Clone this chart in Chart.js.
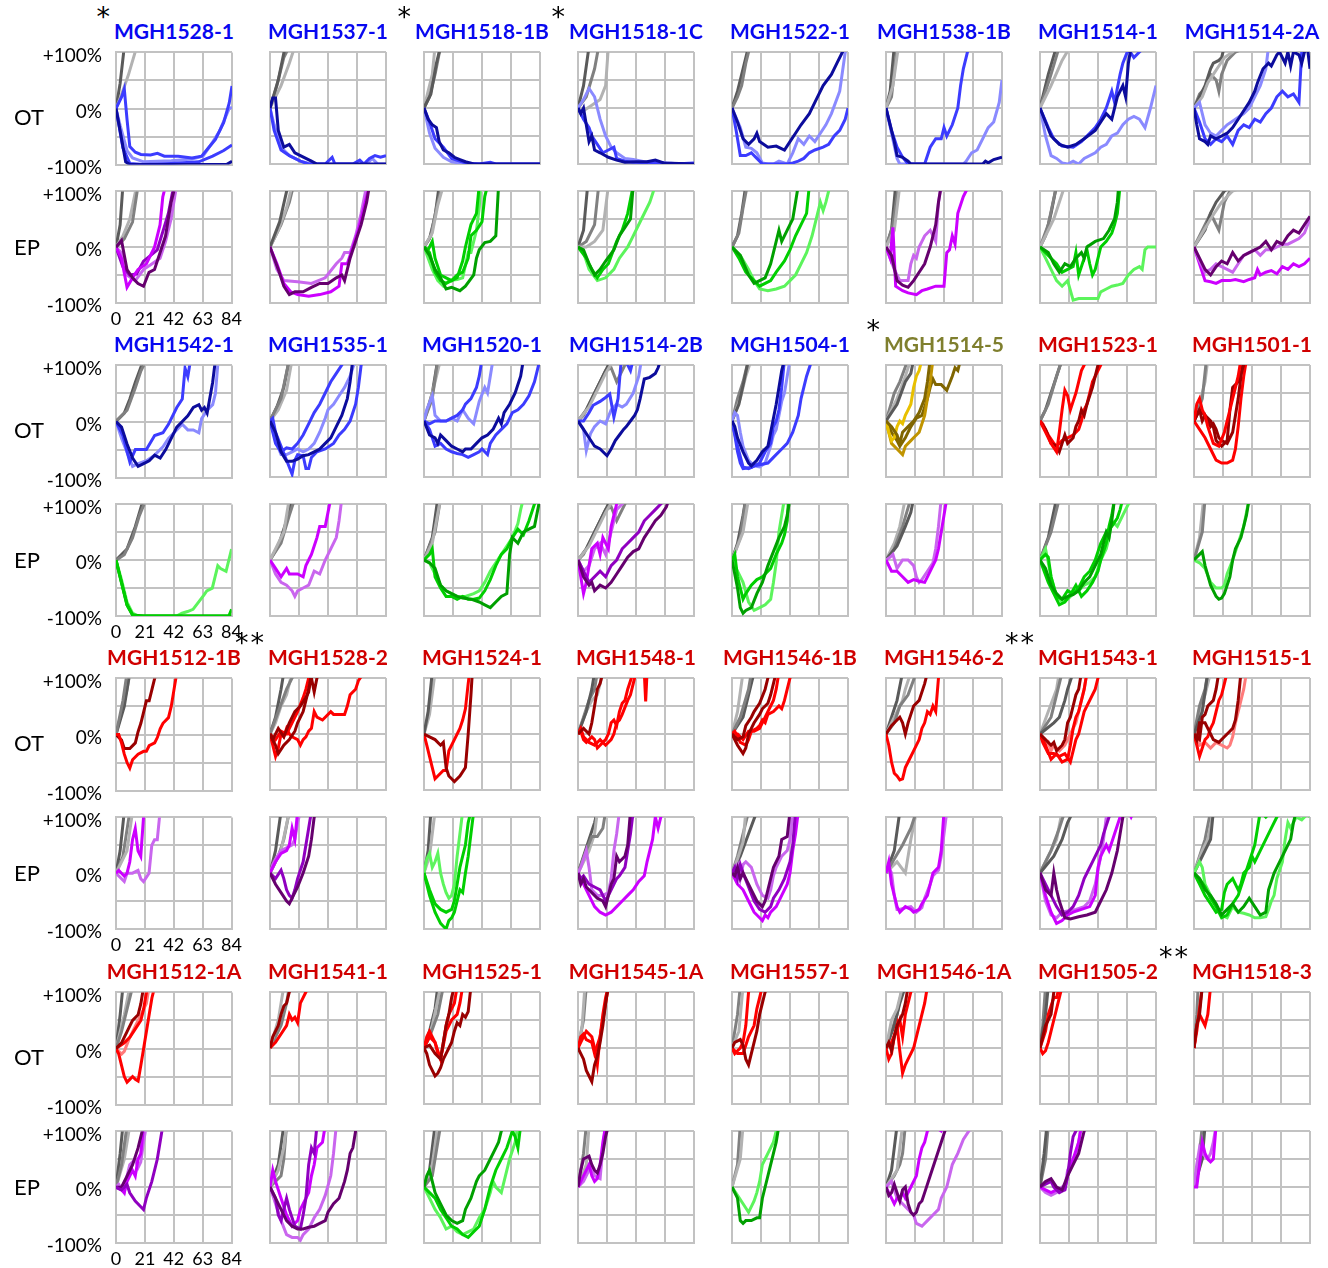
<!DOCTYPE html>
<html>
<head>
<meta charset="utf-8">
<script src="https://cdn.jsdelivr.net/npm/chart.js@4.4.1/dist/chart.umd.min.js"></script>
<style>
  body { margin: 0; background: #fff; font-family: Lato, "Open Sans", sans-serif; }
  #wrap { position: relative; width: 1328px; height: 1268px; overflow: hidden; }
  canvas { position: absolute; }
  .title { position: absolute; width: 220px; text-align: center; font-weight: bold; font-size: 21px; line-height: 24px; }
  .title .name { position: relative; }
  .title .star { position: absolute; right: 100%; top: -13px; margin-right: 2px; color: #000; font-weight: normal; font-size: 27px; letter-spacing: 2px; font-family: "DejaVu Sans", sans-serif; }
  .rowlab { position: absolute; font-size: 22px; line-height: 24px; color: #000; }
</style>
</head>
<body>
<div id="wrap"></div>
<script>
// ---- labels ----
const panelNames = [
  'MGH1528-1', 'MGH1537-1', 'MGH1518-1B', 'MGH1518-1C', 'MGH1522-1', 'MGH1538-1B', 'MGH1514-1', 'MGH1514-2A',
  'MGH1542-1', 'MGH1535-1', 'MGH1520-1', 'MGH1514-2B', 'MGH1504-1', 'MGH1514-5', 'MGH1523-1', 'MGH1501-1',
  'MGH1512-1B', 'MGH1528-2', 'MGH1524-1', 'MGH1548-1', 'MGH1546-1B', 'MGH1546-2', 'MGH1543-1', 'MGH1515-1',
  'MGH1512-1A', 'MGH1541-1', 'MGH1525-1', 'MGH1545-1A', 'MGH1557-1', 'MGH1546-1A', 'MGH1505-2', 'MGH1518-3'
];
const nameColors = [
  'b', 'b', 'b', 'b', 'b', 'b', 'b', 'b',
  'b', 'b', 'b', 'b', 'b', 'o', 'r', 'r',
  'r', 'r', 'r', 'r', 'r', 'r', 'r', 'r',
  'r', 'r', 'r', 'r', 'r', 'r', 'r', 'r'
];
const starMarks = [
  '*', '', '*', '*', '', '', '', '',
  '', '', '', '', '', '*', '', '',
  '', '**', '', '', '', '', '**', '',
  '', '', '', '', '', '', '', '**'
];
const rowLabels = ['OT', 'EP'];
const yTickLabels = { '100': '+100%', '0': '0%', '-100': '-100%' };
const xTicks = [0, 21, 42, 63, 84];

const palette = {
  g1: '#5a5a5a', g2: '#808080', g3: '#b2b2b2',
  b1: '#0c0c9c', b2: '#3c3cff', b3: '#8a8aff',
  p1: '#66006e', p4: '#9000c0', p2: '#cc00ff', p3: '#c966ee',
  n1: '#00a000', n2: '#00cf00', n3: '#5cf45c',
  r1: '#990000', r2: '#ff0000', r3: '#ff7b7b',
  y1: '#e8c000', y3: '#c09400', y2: '#806600'
};
const titleColors = { b: '#0808f0', r: '#d00000', o: '#7f7f2e' };

// ---- series: [colour, day, %change, day, %change, ...] ----
const ot_1528_1 = [
  ['g1', 0,0, 3,45, 6,110],
  ['g3', 0,0, 4,25, 9,60, 15,110],
  ['b3', 0,0, 3,-30, 8,-75, 12,-88, 20,-95, 40,-93, 55,-90, 63,-85, 70,-60, 75,-40, 82,0, 84,2],
  ['b2', 0,0, 4,20, 6,35, 8,-20, 10,-68, 14,-78, 18,-82, 25,-83, 30,-80, 35,-85, 45,-85, 55,-88, 62,-85, 67,-70, 72,-55, 78,-25, 82,10, 84,40],
  ['b2', 0,0, 5,-70, 10,-98, 20,-100, 40,-98, 60,-95, 70,-85, 78,-75, 84,-65],
  ['b1', 0,0, 3,-40, 7,-95, 10,-100, 70,-100, 80,-100, 84,-94]
];
const ep_1528_1 = [
  ['g1', 0,0, 3,40, 5,110],
  ['g3', 0,0, 5,20, 10,50, 15,110],
  ['g2', 0,0, 6,15, 12,45, 16,110],
  ['p3', 0,0, 4,-10, 8,-50, 14,-60, 20,-40, 26,-30, 32,-20, 36,10, 40,50, 44,110],
  ['p4', 0,0, 5,-35, 10,-50, 15,-48, 20,-25, 25,-15, 30,-5, 38,60, 42,110],
  ['p2', 0,0, 4,-20, 8,-72, 12,-55, 16,-40, 22,-30, 28,0, 32,40, 34,90, 36,110],
  ['p1', 0,0, 4,12, 8,-40, 12,-55, 16,-65, 20,-70, 24,-45, 28,-40, 32,-10, 36,20, 40,80, 43,110]
];
const ot_1537_1 = [
  ['g2', 0,0, 5,40, 10,90, 14,110],
  ['g3', 0,0, 8,40, 14,80, 18,110],
  ['g1', 0,0, 6,50, 11,110],
  ['b3', 0,0, 3,-30, 8,-70, 14,-85, 22,-95, 30,-100, 70,-100, 74,-90, 78,-100, 84,-100],
  ['b2', 0,0, 3,-40, 8,-75, 14,-85, 22,-95, 28,-100, 40,-100, 45,-88, 47,-100, 60,-100, 65,-93, 68,-100, 72,-90, 76,-85, 80,-88, 84,-85],
  ['b1', 0,0, 2,18, 4,18, 6,-40, 10,-70, 14,-65, 18,-80, 22,-85, 26,-90, 30,-95, 34,-100, 84,-100]
];
const ep_1537_1 = [
  ['g2', 0,0, 8,40, 14,80, 17,110],
  ['g3', 0,0, 6,30, 12,70, 16,110],
  ['g1', 0,0, 7,45, 13,110],
  ['p3', 0,0, 5,-40, 10,-60, 20,-62, 30,-65, 40,-55, 48,-30, 52,-20, 54,-10, 58,-10, 62,20, 66,60, 70,110],
  ['p2', 0,0, 5,-30, 10,-65, 15,-80, 20,-85, 28,-88, 36,-85, 44,-80, 50,-70, 52,-30, 56,-30, 60,0, 64,30, 68,70, 72,110],
  ['p1', 0,0, 6,-40, 10,-70, 14,-85, 18,-80, 24,-80, 30,-72, 36,-65, 42,-65, 48,-55, 52,-50, 54,-60, 58,-20, 62,10, 66,40, 70,80, 72,110]
];
const ot_1518_1b = [
  ['g3', 0,0, 3,30, 6,60, 8,110],
  ['g2', 0,0, 4,20, 8,60, 12,110],
  ['g1', 0,0, 5,25, 9,80, 12,110],
  ['b3', 0,0, 4,-45, 8,-72, 14,-88, 20,-96, 30,-100, 84,-100],
  ['b2', 0,0, 4,-25, 8,-55, 14,-70, 20,-90, 30,-98, 40,-100, 48,-97, 52,-100, 84,-100],
  ['b1', 0,0, 3,-20, 6,-30, 9,-35, 11,-60, 14,-75, 18,-80, 22,-88, 26,-92, 30,-96, 36,-100, 84,-100]
];
const ep_1518_1b = [
  ['g1', 0,0, 4,15, 8,55, 11,110],
  ['g2', 0,0, 5,20, 9,70, 13,110],
  ['g3', 0,0, 6,25, 10,75, 14,110],
  ['n3', 0,0, 6,-40, 10,-60, 14,-70, 18,-60, 24,-58, 28,-55, 32,-10, 34,-10, 38,30, 40,70, 41,110],
  ['n2', 0,0, 4,-10, 8,-45, 12,-60, 16,-65, 20,-60, 24,-55, 28,-25, 30,0, 34,40, 38,60, 40,110],
  ['n2', 0,0, 3,-5, 6,10, 8,-20, 12,-50, 16,-55, 20,-60, 24,-50, 28,-45, 32,-20, 34,20, 38,30, 42,45, 44,90, 46,110],
  ['n1', 0,0, 4,-15, 8,-40, 12,-55, 16,-75, 20,-72, 26,-78, 30,-70, 36,-50, 38,-20, 40,-5, 44,8, 48,10, 52,20, 54,110]
];
const ot_1518_1c = [
  ['g1', 0,0, 4,40, 8,110],
  ['g2', 0,0, 6,20, 12,70, 15,110],
  ['g3', 0,0, 4,-5, 10,5, 16,15, 20,40, 22,110],
  ['b3', 0,0, 4,15, 8,35, 12,20, 16,-20, 20,-50, 24,-70, 28,-80, 34,-90, 40,-92, 48,-96, 56,-97, 70,-99, 84,-100],
  ['b2', 0,0, 4,-20, 8,-35, 10,-50, 14,-65, 18,-80, 22,-75, 26,-70, 28,-90, 34,-95, 40,-97, 60,-98, 70,-100, 84,-98],
  ['b1', 0,0, 2,-10, 4,0, 6,-30, 8,-60, 10,-50, 12,-75, 16,-80, 22,-88, 28,-93, 34,-97, 42,-96, 50,-96, 56,-93, 62,-98, 84,-100]
];
const ep_1518_1c = [
  ['g1', 0,0, 4,30, 7,110],
  ['g2', 0,0, 6,10, 12,40, 15,110],
  ['g3', 0,0, 6,0, 12,10, 18,30, 22,110],
  ['n3', 0,0, 4,-10, 8,-40, 14,-60, 20,-55, 26,-40, 30,-20, 36,0, 40,20, 46,50, 52,80, 56,110],
  ['n2', 0,0, 6,-20, 10,-40, 14,-55, 18,-40, 22,-30, 28,10, 32,30, 36,60, 40,110],
  ['n1', 0,0, 4,-5, 8,-30, 12,-50, 16,-40, 20,-25, 26,-5, 30,20, 34,35, 38,50, 40,110]
];
const ot_1522_1 = [
  ['g1', 0,0, 4,30, 8,70, 12,110],
  ['g2', 0,0, 4,20, 7,40, 10,80, 13,110],
  ['b3', 0,0, 6,-35, 10,-70, 14,-72, 18,-80, 22,-98, 26,-100, 30,-100, 34,-95, 40,-100, 44,-80, 48,-55, 52,-65, 56,-50, 60,-60, 64,-45, 68,-30, 72,-10, 78,30, 82,100, 84,110],
  ['b2', 0,0, 3,-40, 6,-85, 10,-85, 14,-80, 18,-90, 22,-100, 40,-100, 44,-98, 48,-95, 52,-90, 56,-80, 60,-75, 66,-70, 70,-65, 74,-50, 78,-40, 82,-20, 84,0],
  ['b1', 0,0, 4,-25, 8,-55, 12,-65, 16,-55, 18,-45, 20,-60, 26,-70, 32,-68, 38,-75, 42,-60, 46,-45, 50,-30, 56,-10, 60,10, 66,40, 72,60, 76,80, 80,100, 82,110]
];
const ep_1522_1 = [
  ['g1', 0,0, 4,20, 7,60, 10,110],
  ['g2', 0,0, 5,25, 8,70, 11,110],
  ['n3', 0,0, 6,-15, 12,-40, 16,-60, 20,-75, 26,-78, 32,-75, 38,-70, 42,-60, 46,-50, 50,-30, 54,-10, 58,20, 62,60, 64,80, 66,65, 68,80, 71,110],
  ['n2', 0,0, 5,-20, 10,-45, 16,-60, 20,-70, 24,-65, 28,-60, 32,-45, 38,-25, 42,-5, 46,20, 50,40, 54,60, 56,110],
  ['n1', 0,0, 6,-15, 12,-50, 16,-65, 20,-60, 24,-55, 28,-30, 30,-10, 34,30, 36,10, 40,30, 44,50, 48,110]
];
const ot_1538_1b = [
  ['g1', 0,0, 3,30, 6,110],
  ['g2', 0,0, 4,20, 8,110],
  ['g3', 0,0, 5,40, 9,110],
  ['b3', 0,0, 4,-45, 8,-90, 10,-100, 56,-100, 58,-95, 62,-80, 66,-75, 70,-55, 74,-35, 78,-25, 82,10, 84,50],
  ['b2', 0,0, 4,-40, 8,-70, 12,-88, 16,-100, 28,-100, 32,-70, 36,-55, 40,-55, 42,-35, 44,-50, 48,-30, 52,0, 54,40, 56,70, 58,90, 60,110],
  ['b1', 0,0, 3,-30, 6,-60, 8,-85, 12,-88, 16,-95, 18,-100, 70,-100, 72,-95, 74,-98, 78,-92, 84,-88]
];
const ep_1538_1b = [
  ['g1', 0,0, 4,30, 7,110],
  ['g2', 0,0, 5,40, 9,110],
  ['g3', 0,0, 6,30, 10,110],
  ['p3', 0,0, 6,-40, 10,-60, 16,-60, 18,-30, 20,-15, 22,-20, 24,0, 28,20, 32,30, 36,10, 38,80, 40,110],
  ['p2', 0,0, 3,-20, 5,35, 7,-70, 12,-78, 16,-82, 22,-85, 26,-78, 30,-75, 36,-70, 42,-70, 44,-10, 46,-5, 48,20, 50,5, 52,60, 56,90, 58,100, 60,110],
  ['p1', 0,0, 4,-15, 8,-60, 12,-68, 16,-72, 20,-60, 24,-45, 28,-30, 32,0, 36,40, 38,80, 40,110]
];
const ot_1514_1 = [
  ['g1', 0,0, 6,60, 12,110],
  ['g2', 0,0, 4,30, 8,60, 14,110],
  ['g3', 0,0, 8,40, 16,85, 22,110],
  ['b3', 0,0, 4,-50, 8,-85, 12,-90, 16,-98, 20,-100, 24,-95, 28,-100, 32,-90, 40,-80, 44,-70, 48,-65, 52,-50, 56,-45, 60,-30, 64,-20, 68,-15, 72,-20, 76,-35, 80,0, 84,40],
  ['b2', 0,0, 6,-35, 10,-55, 16,-68, 24,-70, 30,-60, 36,-45, 40,-35, 44,-20, 48,0, 52,30, 54,10, 58,60, 60,80, 64,105, 68,90, 72,100, 76,110],
  ['b1', 0,0, 4,-25, 8,-50, 14,-65, 20,-70, 26,-65, 32,-55, 40,-40, 44,-25, 48,-10, 52,-20, 56,20, 60,40, 62,20, 64,80, 66,110]
];
const ep_1514_1 = [
  ['g1', 0,0, 4,20, 8,60, 12,110],
  ['g2', 0,0, 6,40, 12,110],
  ['g3', 0,0, 10,50, 18,110],
  ['n3', 0,0, 4,-20, 8,-40, 12,-60, 16,-70, 20,-60, 24,-95, 28,-92, 36,-92, 42,-92, 44,-80, 48,-75, 52,-70, 56,-68, 60,-65, 64,-50, 68,-40, 72,-35, 74,-40, 76,-5, 78,0, 84,0],
  ['n2', 0,0, 4,-10, 8,-20, 12,-30, 16,-45, 20,-40, 24,-35, 26,-10, 28,-50, 32,-20, 34,-5, 36,-30, 38,-50, 40,-40, 42,-20, 44,0, 48,10, 52,25, 54,40, 56,60, 58,110],
  ['n1', 0,0, 6,-10, 10,-30, 14,-45, 18,-30, 22,-35, 26,-20, 30,-10, 32,-20, 34,0, 40,10, 46,15, 50,30, 54,50, 56,80, 57,110]
];
const ot_1514_2a = [
  ['g2', 0,0, 4,25, 8,35, 10,50, 12,60, 16,50, 18,30, 20,60, 24,85, 30,100, 40,110],
  ['g1', 0,0, 4,20, 8,40, 12,70, 14,80, 18,85, 20,90, 22,110],
  ['g3', 0,0, 6,20, 10,45, 14,60, 18,75, 22,90, 28,100, 32,110],
  ['b3', 0,0, 4,10, 8,-30, 12,-45, 16,-50, 20,-40, 24,-30, 30,-20, 36,-10, 40,0, 44,20, 48,40, 52,70, 54,110],
  ['b2', 0,0, 4,-25, 8,-55, 12,-65, 16,-55, 20,-60, 24,-50, 28,-65, 32,-40, 36,-30, 40,-35, 44,-20, 48,-25, 52,-10, 56,0, 60,20, 64,30, 68,20, 72,25, 76,10, 78,100, 80,110, 84,110],
  ['b1', 0,0, 2,-30, 4,-55, 8,-60, 10,-65, 12,-50, 16,-55, 20,-50, 24,-45, 28,-35, 32,-20, 36,-5, 40,10, 44,30, 46,45, 50,70, 54,80, 56,75, 60,95, 62,100, 66,80, 68,100, 70,75, 72,100, 76,95, 78,80, 80,100, 82,110, 84,70]
];
const ep_1514_2a = [
  ['g2', 0,0, 4,20, 8,40, 12,60, 14,50, 18,30, 22,80, 26,100, 36,110],
  ['g1', 0,0, 8,30, 12,60, 16,80, 22,100, 28,110],
  ['g3', 0,0, 6,25, 12,50, 20,80, 28,100, 40,110],
  ['p2', 0,0, 4,-30, 8,-60, 12,-62, 16,-65, 20,-60, 26,-60, 30,-58, 36,-62, 40,-58, 44,-55, 46,-40, 48,-50, 52,-45, 56,-42, 60,-48, 64,-35, 68,-40, 72,-30, 76,-35, 80,-30, 84,-20],
  ['p3', 0,0, 4,-25, 8,-45, 12,-40, 16,-30, 20,-35, 24,-40, 28,-45, 32,-30, 36,-15, 40,-10, 44,-5, 48,-15, 52,-5, 56,-5, 60,0, 64,5, 68,5, 72,10, 76,15, 80,25, 84,50],
  ['p1', 0,0, 4,-20, 8,-40, 12,-50, 16,-35, 20,-25, 24,-30, 28,-10, 32,-25, 36,-15, 40,-10, 44,-5, 48,0, 52,10, 56,-5, 60,10, 64,5, 68,20, 72,30, 76,25, 80,40, 84,55]
];
const ot_1542_1 = [
  ['g1', 0,0, 6,15, 10,40, 14,70, 20,110],
  ['g2', 0,0, 8,20, 14,60, 18,90, 22,110],
  ['b3', 0,0, 4,-30, 8,-55, 12,-80, 16,-75, 22,-70, 28,-60, 34,-45, 38,-30, 42,-20, 48,-5, 52,-15, 56,-15, 60,-20, 62,5, 66,20, 70,30, 72,50, 74,110],
  ['b2', 0,0, 5,-25, 10,-72, 14,-50, 18,-50, 22,-50, 28,-25, 34,-20, 38,-5, 44,25, 48,40, 50,95, 52,80, 54,110],
  ['b1', 0,0, 4,-10, 8,-40, 12,-65, 16,-80, 20,-75, 24,-70, 28,-60, 32,-65, 36,-50, 40,-30, 44,-10, 48,0, 52,10, 56,25, 60,30, 62,20, 64,25, 66,15, 70,70, 72,110]
];
const ep_1542_1 = [
  ['g1', 0,0, 8,20, 14,60, 20,110],
  ['g2', 0,0, 6,10, 12,40, 17,80, 22,110],
  ['n3', 0,0, 4,-35, 8,-75, 12,-95, 16,-100, 44,-100, 48,-95, 52,-92, 56,-88, 60,-75, 64,-62, 66,-55, 70,-50, 72,-30, 74,-10, 76,-15, 80,-20, 84,20],
  ['n1', 0,0, 4,-40, 8,-80, 12,-98, 20,-100, 84,-100],
  ['n2', 0,0, 4,-40, 8,-80, 12,-98, 16,-100, 82,-100, 84,-88]
];
const ot_1535_1 = [
  ['g1', 0,0, 5,25, 10,60, 14,110],
  ['g3', 0,0, 6,20, 12,55, 16,110],
  ['g2', 0,0, 8,40, 14,110],
  ['b3', 0,0, 4,-35, 8,-60, 12,-60, 16,-55, 20,-50, 24,-55, 28,-50, 32,-40, 36,-20, 40,5, 42,20, 46,30, 50,45, 54,60, 58,80, 62,110],
  ['b2', 0,0, 4,-40, 8,-55, 12,-48, 16,-50, 20,-40, 24,-25, 28,-5, 32,15, 36,30, 40,50, 44,70, 48,85, 52,100, 54,110],
  ['b2', 0,0, 2,5, 4,-20, 8,-45, 12,-70, 16,-95, 18,-70, 20,-60, 24,-62, 26,-85, 28,-85, 30,-65, 34,-55, 40,-50, 46,-40, 50,-25, 54,-15, 58,0, 62,30, 64,60, 66,100, 68,110],
  ['b1', 0,0, 4,-20, 8,-55, 12,-72, 16,-72, 20,-68, 24,-62, 28,-60, 32,-55, 36,-50, 40,-40, 44,-30, 48,-10, 52,10, 56,40, 58,70, 60,110]
];
const ep_1535_1 = [
  ['g1', 0,0, 6,25, 12,70, 16,110],
  ['g2', 0,0, 8,30, 14,80, 18,110],
  ['g3', 0,0, 4,20, 10,50, 14,110],
  ['p3', 0,0, 4,-25, 8,-40, 12,-45, 16,-55, 18,-65, 20,-55, 24,-50, 28,-45, 32,-20, 36,-25, 40,0, 44,20, 48,40, 50,70, 52,110],
  ['p2', 0,0, 4,-15, 8,-30, 12,-15, 14,-25, 20,-25, 24,-30, 26,-10, 30,10, 34,40, 36,60, 40,60, 42,85, 44,110]
];
const ot_1520_1 = [
  ['g1', 0,0, 6,50, 10,110],
  ['g3', 0,0, 4,30, 8,70, 12,110],
  ['g2', 0,0, 6,40, 10,110],
  ['b3', 0,0, 2,20, 6,45, 8,10, 12,0, 16,0, 20,5, 24,0, 28,20, 32,5, 36,-5, 40,35, 44,60, 46,50, 48,80, 50,110],
  ['b2', 0,0, 4,-15, 8,-45, 12,-40, 16,-50, 20,-55, 24,-58, 28,-60, 32,-65, 36,-60, 40,-55, 42,-50, 44,-55, 46,-60, 48,-40, 52,-25, 56,-15, 60,-5, 64,15, 68,20, 72,30, 76,45, 80,70, 84,110],
  ['b2', 0,0, 4,-5, 8,0, 12,0, 16,0, 20,5, 24,10, 28,20, 30,30, 34,40, 36,50, 38,60, 40,80, 42,110],
  ['b1', 0,0, 4,-25, 8,-30, 10,-40, 12,-25, 16,-35, 20,-45, 24,-50, 28,-55, 30,-50, 34,-50, 38,-40, 42,-30, 46,-25, 50,-15, 52,-5, 54,5, 56,-5, 58,15, 62,30, 66,50, 70,80, 72,110]
];
const ep_1520_1 = [
  ['g1', 0,0, 6,40, 10,110],
  ['g2', 0,0, 8,50, 12,110],
  ['g3', 0,0, 6,30, 12,110],
  ['n3', 0,0, 4,-5, 8,-25, 12,-45, 16,-55, 20,-60, 24,-65, 30,-65, 36,-60, 40,-55, 44,-40, 48,-20, 52,-5, 56,10, 60,25, 64,40, 68,65, 70,90, 72,110],
  ['n2', 0,0, 4,10, 6,20, 8,-30, 12,-50, 16,-65, 20,-65, 24,-70, 28,-65, 32,-70, 36,-70, 40,-68, 44,-55, 48,-35, 52,-10, 56,10, 60,20, 64,40, 68,55, 72,45, 76,70, 80,100, 82,110],
  ['n1', 0,0, 4,-5, 8,-15, 12,-45, 16,-55, 20,-60, 24,-65, 28,-68, 34,-70, 40,-75, 44,-80, 48,-85, 52,-75, 56,-65, 60,-60, 62,10, 64,40, 68,30, 72,50, 76,55, 80,60, 84,110]
];
const ot_1514_2b = [
  ['g2', 0,0, 4,10, 8,30, 12,50, 16,70, 20,90, 24,95, 28,70, 30,80, 36,110],
  ['g1', 0,0, 6,20, 10,40, 14,60, 18,80, 22,100, 26,110],
  ['g3', 0,0, 8,25, 14,55, 20,85, 26,110],
  ['b3', 0,0, 4,-15, 6,-53, 9,-23, 12,-10, 16,0, 20,-5, 24,20, 28,30, 32,25, 35,30, 40,50, 44,80, 46,110],
  ['b2', 0,0, 4,0, 8,15, 11,28, 16,35, 20,42, 23,48, 26,7, 29,40, 31,100, 34,110, 38,90, 40,110],
  ['b1', 0,0, 4,-15, 8,-30, 12,-45, 16,-50, 21,-62, 24,-50, 27,-35, 30,-25, 33,-15, 35,-10, 38,0, 41,10, 43,20, 45,40, 48,75, 52,78, 56,85, 58,95, 60,110]
];
const ep_1514_2b = [
  ['g2', 0,0, 4,10, 8,30, 12,50, 16,70, 20,90, 24,95, 28,70, 30,80, 36,110],
  ['g1', 0,0, 6,20, 10,40, 14,60, 18,80, 22,100, 26,110],
  ['g3', 0,0, 8,25, 14,55, 20,85, 26,110],
  ['p3', 0,0, 4,-20, 8,-10, 12,20, 16,30, 20,10, 24,50, 26,70, 28,90, 32,100, 36,110],
  ['p2', 0,0, 2,-30, 4,-60, 6,-40, 8,-10, 10,20, 14,30, 16,10, 18,40, 22,20, 24,60, 26,80, 28,100, 30,110],
  ['p4', 0,0, 4,-20, 8,-40, 12,-30, 16,-20, 20,-30, 24,-10, 28,0, 32,20, 36,30, 40,40, 44,50, 48,70, 52,80, 56,90, 60,100, 64,110],
  ['p1', 0,0, 4,-30, 8,-45, 10,-40, 12,-55, 16,-45, 20,-50, 24,-40, 28,-25, 32,-10, 36,5, 40,15, 44,20, 48,40, 52,55, 56,70, 60,80, 64,95, 66,110]
];
const ot_1504_1 = [
  ['g2', 0,0, 4,40, 8,70, 12,110],
  ['g3', 0,0, 6,40, 10,80, 14,110],
  ['g1', 0,0, 5,30, 9,75, 12,110],
  ['b3', 0,0, 2,15, 4,10, 6,-20, 8,-45, 12,-70, 16,-80, 20,-82, 24,-75, 26,-60, 28,-45, 30,-25, 32,-15, 34,10, 36,35, 38,50, 40,80, 42,110],
  ['b2', 0,0, 2,-25, 4,-55, 6,-75, 8,-85, 14,-83, 20,-75, 24,-55, 28,-40, 30,-10, 32,0, 34,20, 36,60, 38,110],
  ['b2', 0,0, 4,-45, 8,-82, 12,-85, 16,-80, 20,-78, 26,-75, 30,-65, 36,-50, 40,-40, 44,-20, 48,10, 50,40, 52,60, 54,80, 56,95, 58,110],
  ['b1', 0,0, 2,-10, 4,-30, 8,-55, 12,-75, 14,-80, 18,-70, 22,-55, 26,-45, 28,-20, 32,30, 34,60, 36,90, 38,110]
];
const ep_1504_1 = [
  ['g1', 0,0, 4,30, 8,80, 10,110],
  ['g2', 0,0, 6,40, 10,110],
  ['g3', 0,0, 8,50, 12,110],
  ['n3', 0,0, 4,-20, 8,-40, 12,-75, 16,-90, 20,-85, 24,-80, 28,-70, 30,-40, 32,-5, 34,50, 36,80, 38,110],
  ['n2', 0,0, 2,10, 4,-30, 6,-50, 8,-70, 10,-60, 14,-45, 18,-35, 22,-30, 24,-25, 28,-15, 32,10, 36,30, 38,45, 40,70, 41,110],
  ['n1', 0,0, 4,-50, 6,-85, 8,-95, 10,-90, 14,-85, 18,-60, 22,-40, 26,-10, 30,15, 34,40, 38,60, 40,80, 42,110]
];
const ot_1514_5 = [
  ['g2', 0,0, 6,50, 10,70, 16,110],
  ['g3', 0,0, 4,20, 8,40, 14,80, 18,110],
  ['g1', 0,0, 8,30, 14,70, 18,85, 20,110],
  ['y2', 0,0, 4,-20, 8,-35, 10,-45, 14,-30, 18,-10, 22,5, 26,10, 28,25, 30,40, 32,60, 34,75, 36,65, 40,65, 44,55, 48,80, 50,95, 52,90, 54,110],
  ['y3', 0,0, 4,-40, 8,-50, 12,-60, 14,-45, 18,-35, 20,-30, 24,-20, 28,10, 30,40, 32,70, 34,110],
  ['y1', 0,0, 2,-20, 4,-35, 6,-30, 8,-10, 10,0, 12,-5, 14,10, 16,20, 18,30, 20,60, 22,80, 24,90, 26,110],
  ['y2', 0,0, 4,-10, 8,-25, 10,-40, 12,-20, 16,-10, 20,0, 24,15, 28,40, 30,70, 32,110]
];
const ep_1514_5 = [
  ['g3', 0,0, 6,30, 10,60, 14,110],
  ['g2', 0,0, 6,20, 12,60, 18,110],
  ['g1', 0,0, 8,25, 14,60, 18,85, 20,110],
  ['p3', 0,0, 3,5, 5,10, 8,-15, 12,0, 16,0, 20,-10, 22,-30, 24,-40, 26,-35, 30,-20, 34,-5, 36,20, 38,60, 40,110],
  ['p2', 0,0, 4,-20, 8,-20, 12,-30, 16,-40, 20,-35, 24,-38, 28,-40, 30,-30, 34,-10, 36,0, 38,20, 40,50, 42,80, 44,110]
];
const ot_1523_1 = [
  ['g1', 0,0, 4,20, 8,50, 12,80, 16,110],
  ['g2', 0,0, 6,30, 12,80, 16,110],
  ['r2', 0,0, 2,-5, 6,-25, 10,-40, 12,-45, 16,-35, 20,-30, 24,-25, 28,-15, 30,0, 32,20, 34,30, 36,50, 38,70, 42,90, 46,110],
  ['r1', 0,0, 4,-15, 8,-40, 12,-45, 14,-55, 16,-40, 18,-25, 20,-40, 22,-35, 24,-30, 26,-10, 28,0, 30,20, 32,10, 34,30, 36,45, 38,60, 40,80, 42,100, 44,110],
  ['r2', 0,0, 4,-20, 8,-40, 12,-55, 14,-20, 16,20, 18,55, 20,45, 22,20, 24,35, 26,50, 28,70, 30,90, 32,100, 34,110]
];
const ep_1523_1 = [
  ['g1', 0,0, 6,40, 12,110],
  ['g2', 0,0, 8,50, 14,110],
  ['n3', 0,0, 4,20, 8,-30, 12,-65, 16,-75, 20,-70, 24,-60, 28,-55, 32,-45, 36,-40, 40,-30, 44,0, 48,20, 50,40, 52,70, 56,60, 60,80, 64,100, 68,110],
  ['n2', 0,0, 4,10, 6,5, 8,-30, 12,-65, 16,-70, 20,-55, 24,-60, 28,-50, 32,-30, 36,-20, 40,0, 44,30, 48,50, 52,60, 56,75, 58,90, 60,110],
  ['n2', 0,0, 6,-40, 10,-60, 14,-80, 18,-75, 22,-62, 26,-45, 30,-65, 34,-55, 38,-40, 42,-20, 44,0, 48,30, 50,60, 52,80, 54,110],
  ['n1', 0,0, 4,-15, 8,-45, 12,-60, 16,-70, 20,-65, 24,-62, 28,-55, 32,-40, 36,-30, 40,-10, 44,10, 46,30, 48,50, 50,40, 52,70, 54,110]
];
const ot_1501_1 = [
  ['g3', 0,0, 4,30, 8,70, 10,110],
  ['g2', 0,0, 6,40, 9,110],
  ['r2', 0,0, 4,-15, 8,-30, 12,-50, 16,-70, 20,-75, 24,-75, 28,-70, 30,-50, 32,-10, 34,40, 36,80, 38,110],
  ['r1', 0,0, 4,20, 8,10, 12,0, 14,-10, 16,-35, 20,-45, 24,-35, 26,20, 28,60, 32,70, 36,100, 38,110],
  ['r1', 0,0, 2,10, 4,20, 6,0, 8,10, 10,0, 12,-10, 14,-5, 16,-15, 18,-30, 20,-35, 24,-40, 28,-20, 30,10, 32,40, 34,80, 36,110],
  ['r2', 0,0, 2,30, 4,40, 6,20, 8,10, 10,-10, 12,-25, 14,-40, 18,-45, 22,-20, 26,20, 30,60, 32,80, 34,110]
];
const ep_1501_1 = [
  ['g3', 0,0, 4,40, 7,110],
  ['g2', 0,0, 6,50, 8,110],
  ['n3', 0,0, 4,-5, 8,-15, 12,-40, 16,-50, 20,-50, 22,-45, 24,-25, 28,0, 32,30, 36,60, 40,110],
  ['n1', 0,0, 4,10, 6,15, 8,-10, 12,-45, 16,-65, 18,-70, 20,-68, 22,-60, 26,-30, 28,0, 30,20, 34,40, 38,80, 40,110]
];
const ot_1512_1b = [
  ['g3', 0,0, 4,40, 8,80, 10,110],
  ['g1', 0,0, 6,50, 10,110],
  ['g2', 0,0, 5,60, 8,110],
  ['r1', 0,0, 4,-10, 6,-25, 10,-25, 14,-15, 16,5, 18,20, 20,40, 22,60, 24,60, 26,80, 28,100, 30,110],
  ['r2', 0,0, 2,0, 4,-15, 6,-35, 8,-50, 10,-60, 12,-45, 16,-35, 20,-30, 22,-30, 24,-20, 28,-15, 30,-5, 32,10, 34,20, 38,30, 40,50, 42,80, 44,110]
];
const ep_1512_1b = [
  ['g1', 0,0, 3,40, 6,110],
  ['g2', 0,0, 5,30, 10,110],
  ['g3', 0,0, 8,40, 12,110],
  ['p3', 0,0, 2,-5, 6,-15, 8,0, 12,0, 16,5, 18,-10, 20,-15, 24,0, 26,50, 28,60, 30,60, 32,110],
  ['p2', 0,0, 2,5, 4,0, 6,-5, 8,0, 10,20, 12,60, 14,80, 16,40, 18,30, 20,100, 22,110]
];
const ot_1528_2 = [
  ['g1', 0,0, 4,30, 8,80, 10,110],
  ['g3', 0,0, 4,20, 8,50, 12,70, 16,110],
  ['g2', 0,0, 6,40, 12,80, 18,110],
  ['r2', 0,0, 2,-20, 4,-40, 6,-25, 8,0, 10,-5, 12,10, 14,0, 16,-5, 20,-10, 22,-20, 24,-10, 26,-5, 28,5, 30,10, 32,40, 34,30, 38,25, 40,30, 44,40, 46,35, 50,35, 54,35, 56,50, 58,70, 62,80, 64,95, 68,110],
  ['r2', 0,0, 4,-10, 8,5, 12,0, 16,20, 20,40, 24,65, 26,80, 28,100, 30,110],
  ['r1', 0,0, 2,-10, 6,10, 10,-5, 14,20, 18,40, 22,50, 26,65, 28,75, 30,110],
  ['r1', 0,0, 4,-20, 6,-35, 10,-20, 14,-10, 18,5, 20,20, 24,40, 26,60, 28,80, 30,100, 32,75, 34,100, 36,110]
];
const ep_1528_2 = [
  ['g1', 0,0, 4,40, 8,110],
  ['g2', 0,0, 6,30, 10,60, 14,110],
  ['g3', 0,0, 8,40, 14,110],
  ['p3', 0,0, 2,15, 4,25, 8,40, 12,45, 16,50, 18,60, 20,90, 22,110],
  ['p2', 0,0, 4,20, 8,35, 12,40, 14,50, 16,80, 18,60, 20,110],
  ['p4', 0,0, 4,-10, 8,5, 10,-10, 12,-30, 14,-40, 16,-45, 18,-30, 20,-10, 24,20, 26,50, 28,80, 30,110],
  ['p1', 0,0, 4,-20, 8,-35, 12,-50, 14,-55, 16,-45, 20,-25, 24,0, 28,30, 30,60, 32,100, 34,110]
];
const ot_1524_1 = [
  ['g3', 0,0, 4,35, 8,110],
  ['g1', 0,0, 3,40, 6,110],
  ['r2', 0,0, 2,-20, 4,-40, 6,-60, 8,-80, 10,-75, 14,-65, 16,-65, 18,-30, 22,-10, 26,10, 28,25, 30,45, 32,90, 33,110],
  ['r1', 0,0, 4,-5, 8,-10, 12,-20, 14,-15, 16,-60, 18,-75, 20,-80, 22,-85, 26,-75, 30,-60, 32,0, 34,70, 35,110]
];
const ep_1524_1 = [
  ['g1', 0,0, 3,40, 5,110],
  ['g3', 0,0, 4,30, 8,110],
  ['n3', 0,0, 2,25, 4,35, 6,10, 8,20, 10,35, 12,0, 14,-20, 16,-35, 18,-45, 20,-40, 22,-20, 24,30, 26,70, 28,110],
  ['n2', 0,0, 4,-30, 8,-55, 12,-65, 16,-70, 20,-65, 22,-50, 24,-20, 26,10, 28,30, 30,50, 32,90, 34,110],
  ['n2', 0,0, 4,-40, 8,-70, 12,-90, 14,-95, 16,-100, 18,-85, 20,-80, 22,-70, 24,-50, 26,-30, 28,-35, 30,0, 32,30, 34,70, 36,110]
];
const ot_1548_1 = [
  ['g2', 0,0, 4,30, 8,60, 12,80, 14,110],
  ['g3', 0,0, 6,40, 10,60, 14,70, 18,110],
  ['g1', 0,0, 6,40, 10,80, 12,110],
  ['r2', 0,0, 2,10, 4,-5, 8,-15, 12,-20, 16,-10, 20,-20, 24,-10, 26,0, 28,20, 30,25, 32,35, 36,60, 38,70, 40,90, 42,110],
  ['r2', 0,0, 2,5, 4,-10, 6,-15, 8,-10, 10,-5, 12,-10, 14,-25, 16,-20, 18,-15, 20,-10, 22,0, 24,20, 26,25, 28,15, 30,40, 32,55, 34,60, 36,80, 38,95, 40,110, 48,110, 49,58, 50,110],
  ['r1', 0,0, 4,10, 8,0, 10,20, 12,50, 14,80, 16,90, 18,110]
];
const ep_1548_1 = [
  ['g1', 0,0, 4,30, 8,60, 12,90, 14,110],
  ['g3', 0,0, 8,40, 12,70, 14,110],
  ['g2', 0,0, 6,40, 10,65, 14,65, 18,80, 20,110],
  ['p3', 0,0, 2,10, 6,40, 8,10, 10,-30, 14,-40, 18,-40, 22,-35, 24,-10, 26,40, 28,70, 30,110],
  ['p2', 0,0, 4,-20, 8,-40, 12,-60, 16,-70, 20,-75, 24,-70, 28,-60, 32,-50, 36,-40, 40,-30, 44,-15, 48,-5, 50,20, 52,40, 54,60, 56,100, 58,80, 60,100, 62,110],
  ['p4', 0,0, 2,-10, 4,-5, 8,-20, 12,-25, 16,-30, 20,-50, 24,-30, 28,-10, 30,-5, 34,10, 36,40, 38,70, 40,110],
  ['p1', 0,0, 2,-20, 4,-10, 6,-25, 10,-35, 14,-45, 18,-50, 20,-60, 22,-40, 24,-20, 26,-10, 28,30, 30,20, 34,30, 36,50, 38,110]
];
const ot_1546_1b = [
  ['g3', 0,0, 4,40, 8,110],
  ['g1', 0,0, 8,30, 12,70, 16,110],
  ['g2', 0,0, 6,30, 12,80, 14,110],
  ['r2', 0,0, 2,5, 6,-15, 10,-20, 12,-10, 14,5, 18,10, 20,15, 22,25, 24,20, 26,35, 30,40, 34,50, 36,45, 38,60, 40,80, 42,100, 44,110],
  ['r2', 0,0, 4,0, 8,-10, 12,5, 16,5, 20,10, 24,30, 28,50, 30,60, 32,80, 34,110],
  ['r1', 0,0, 4,-10, 8,-5, 10,15, 14,30, 16,40, 20,55, 24,80, 26,100, 28,110],
  ['r1', 0,0, 4,-20, 8,-35, 10,-25, 12,0, 14,10, 16,20, 20,35, 22,45, 26,55, 28,70, 30,90, 32,110]
];
const ep_1546_1b = [
  ['g2', 0,0, 4,30, 8,70, 12,110],
  ['g1', 0,0, 6,30, 12,70, 18,110],
  ['g3', 0,0, 4,25, 8,55, 10,110],
  ['p3', 0,0, 4,15, 6,-10, 8,15, 10,20, 14,10, 18,-20, 22,-40, 26,-45, 28,-30, 30,-5, 32,10, 36,30, 40,40, 42,60, 44,110],
  ['p2', 0,0, 4,-20, 8,-30, 12,-50, 16,-70, 20,-80, 22,-85, 24,-75, 26,-80, 28,-70, 32,-60, 36,-40, 40,-20, 42,0, 44,40, 46,70, 48,110],
  ['p4', 0,0, 2,10, 4,-10, 6,15, 8,0, 12,-25, 16,-50, 20,-65, 24,-70, 28,-60, 30,-45, 34,-30, 38,-10, 42,20, 44,50, 46,110],
  ['p1', 0,0, 2,-5, 4,10, 6,-10, 8,0, 10,-10, 14,-30, 18,-50, 22,-60, 24,-50, 26,-30, 28,-10, 30,10, 34,30, 36,60, 40,65, 42,110]
];
const ot_1546_2 = [
  ['g1', 0,0, 4,30, 8,60, 12,110],
  ['g3', 0,0, 8,40, 12,60, 14,80, 18,110],
  ['g2', 0,0, 6,20, 10,50, 16,70, 22,110],
  ['r2', 0,0, 2,-20, 4,-50, 6,-70, 8,-75, 10,-82, 12,-80, 14,-60, 16,-50, 20,-30, 24,-10, 26,10, 28,20, 30,40, 32,35, 34,50, 36,40, 38,100, 40,110],
  ['r1', 0,0, 4,15, 8,25, 10,30, 12,20, 14,0, 16,20, 18,35, 20,50, 24,60, 28,90, 30,110]
];
const ep_1546_2 = [
  ['g1', 0,0, 6,40, 10,110],
  ['g3', 0,0, 8,20, 14,0, 18,60, 22,110],
  ['g2', 0,0, 6,25, 12,50, 18,80, 22,110],
  ['p3', 0,0, 2,10, 4,0, 6,-40, 8,-65, 10,-65, 14,-62, 18,-60, 22,-70, 26,-62, 28,-45, 32,-20, 34,-5, 38,5, 40,30, 42,70, 44,110],
  ['p2', 0,0, 2,20, 4,-20, 6,-40, 8,-60, 10,-70, 14,-60, 18,-65, 20,-70, 24,-65, 26,-55, 30,-40, 32,-20, 34,0, 38,10, 40,40, 42,110]
];
const ot_1543_1 = [
  ['g3', 0,0, 6,40, 12,80, 14,110],
  ['g2', 0,0, 8,30, 12,70, 16,110],
  ['g1', 0,0, 10,20, 14,30, 18,60, 20,80, 24,110],
  ['r3', 0,0, 2,-10, 4,-20, 6,-15, 8,-30, 10,-20, 14,-30, 18,-20, 22,0, 26,20, 28,40, 30,60, 32,80, 34,110],
  ['r2', 0,0, 2,-15, 6,-35, 10,-35, 14,-40, 18,-35, 22,-50, 24,-30, 26,-10, 28,0, 30,20, 32,40, 36,60, 40,80, 42,100, 44,110],
  ['r2', 0,0, 4,-20, 8,-45, 12,-35, 16,-50, 20,-45, 22,-20, 24,10, 26,30, 28,40, 30,60, 32,80, 34,110],
  ['r1', 0,0, 4,-10, 8,-20, 10,-15, 12,-30, 16,-20, 18,-10, 20,20, 22,30, 24,50, 26,70, 28,80, 30,110]
];
const ep_1543_1 = [
  ['g3', 0,0, 6,30, 12,60, 16,110],
  ['g2', 0,0, 8,40, 14,80, 18,110],
  ['g1', 0,0, 10,30, 16,60, 20,90, 24,110],
  ['p3', 0,0, 4,-50, 8,-75, 12,-80, 16,-70, 20,-68, 26,-65, 32,-60, 36,-50, 40,-20, 44,30, 46,60, 48,100, 50,110],
  ['p2', 0,0, 4,-40, 8,-70, 12,-90, 16,-85, 20,-75, 24,-70, 30,-65, 36,-60, 40,-40, 42,10, 44,30, 48,50, 50,40, 54,70, 58,100, 64,110, 66,100, 68,110],
  ['p4', 0,0, 4,-20, 8,-40, 12,-60, 16,-75, 20,-70, 24,-60, 28,-40, 32,-10, 34,0, 38,20, 42,40, 44,50, 46,70, 50,100, 52,110],
  ['p1', 0,0, 4,-30, 8,-40, 10,0, 12,-30, 14,-50, 18,-80, 22,-82, 28,-78, 34,-75, 40,-70, 44,-50, 48,-30, 52,0, 56,40, 58,70, 60,100, 62,110]
];
const ot_1515_1 = [
  ['g3', 0,0, 4,40, 8,70, 12,110],
  ['g2', 0,0, 4,50, 8,80, 10,110],
  ['g1', 0,0, 6,40, 10,110],
  ['r3', 0,0, 4,-20, 8,-15, 12,-25, 16,-15, 20,-20, 24,-25, 26,-20, 28,-5, 30,20, 32,40, 34,60, 36,80, 38,110],
  ['r2', 0,0, 2,-20, 4,-40, 6,-25, 8,-10, 10,-5, 12,10, 14,20, 16,40, 18,60, 20,70, 22,90, 24,110],
  ['r1', 0,0, 4,-10, 6,30, 8,35, 10,50, 14,60, 16,80, 18,110],
  ['r1', 0,0, 2,-10, 4,20, 8,20, 10,10, 12,0, 14,-10, 18,-15, 22,-5, 26,5, 28,10, 30,25, 32,60, 34,110]
];
const ep_1515_1 = [
  ['g2', 0,0, 4,30, 8,60, 12,110],
  ['g3', 0,0, 6,40, 10,60, 14,110],
  ['g1', 0,0, 8,40, 12,60, 14,110],
  ['n3', 0,0, 4,20, 6,10, 8,-20, 12,-40, 16,-60, 20,-75, 24,-80, 28,-60, 32,-70, 36,-72, 40,-75, 44,-80, 48,-80, 52,-78, 54,-65, 56,-50, 58,-40, 60,-10, 64,20, 66,60, 68,90, 70,80, 74,100, 78,95, 82,105, 84,100],
  ['n2', 0,0, 4,-20, 8,-40, 12,-55, 16,-70, 20,-65, 22,-35, 24,-20, 28,-10, 32,-30, 34,-20, 36,0, 40,10, 42,30, 44,20, 48,40, 52,60, 56,80, 60,100, 62,110],
  ['n2', 0,0, 4,-10, 8,-25, 12,-45, 16,-60, 20,-80, 24,-75, 28,-55, 32,-40, 36,-10, 40,20, 44,50, 46,80, 48,110, 52,100, 56,110],
  ['n1', 0,0, 4,-10, 8,-30, 12,-40, 16,-55, 20,-75, 24,-65, 28,-55, 32,-70, 36,-60, 40,-45, 44,-60, 48,-75, 52,-70, 54,-30, 58,0, 62,20, 66,40, 70,60, 72,90, 74,110]
];
const ot_1512_1a = [
  ['g1', 0,0, 3,60, 5,110],
  ['g3', 0,0, 6,60, 10,110],
  ['g2', 0,0, 4,30, 8,70, 12,110],
  ['r3', 0,0, 2,-5, 4,-10, 6,-5, 10,20, 14,40, 18,60, 22,80, 24,110],
  ['r2', 0,0, 2,-10, 4,-30, 6,-50, 8,-60, 10,-55, 12,-50, 14,-55, 16,-58, 18,-30, 20,0, 22,30, 24,60, 26,90, 28,110],
  ['r2', 0,0, 6,10, 10,20, 14,35, 18,50, 20,70, 22,100, 24,110],
  ['r1', 0,0, 4,10, 8,30, 12,50, 16,60, 18,80, 20,110]
];
const ep_1512_1a = [
  ['g1', 0,0, 3,60, 5,110],
  ['g3', 0,0, 6,50, 10,110],
  ['g2', 0,0, 4,40, 8,110],
  ['p3', 0,0, 2,5, 6,-10, 8,20, 10,40, 14,50, 16,35, 18,45, 20,80, 22,110],
  ['p2', 0,0, 4,-5, 6,-10, 8,10, 12,30, 14,20, 16,50, 18,60, 20,110],
  ['p1', 0,0, 4,0, 8,20, 12,40, 16,70, 20,110],
  ['p4', 0,0, 4,-5, 8,5, 10,-10, 14,-25, 18,-35, 20,-40, 22,-20, 26,10, 30,50, 34,110]
];
const ot_1541_1 = [
  ['g2', 0,0, 4,20, 8,40, 12,80, 14,110],
  ['g3', 0,0, 6,50, 10,110],
  ['r2', 0,0, 4,10, 8,25, 12,40, 14,60, 16,50, 18,55, 20,45, 22,80, 24,90, 26,100, 28,110],
  ['r1', 0,0, 2,20, 6,40, 8,60, 10,75, 12,80, 14,100, 16,110]
];
const ep_1541_1 = [
  ['g1', 0,0, 6,40, 10,110],
  ['g2', 0,0, 8,20, 10,50, 12,110],
  ['g3', 0,0, 6,30, 10,70, 12,110],
  ['p3', 0,0, 4,-30, 8,-60, 12,-85, 16,-90, 20,-90, 22,-95, 24,-85, 28,-75, 32,-55, 36,-40, 40,-15, 44,20, 46,60, 48,110],
  ['p2', 0,0, 2,30, 4,10, 8,-20, 12,-50, 16,-70, 20,-60, 22,-40, 24,-30, 28,-10, 30,20, 32,40, 34,70, 38,80, 40,110],
  ['p4', 0,0, 2,-10, 4,-20, 6,-50, 8,-60, 10,-40, 12,-20, 14,-40, 18,-70, 22,-75, 24,-50, 26,-20, 28,40, 30,70, 32,60, 34,110],
  ['p1', 0,0, 4,-20, 8,-40, 12,-60, 16,-70, 20,-75, 24,-75, 28,-72, 32,-70, 36,-65, 40,-60, 42,-45, 46,-30, 50,-20, 54,10, 56,30, 58,60, 60,70, 62,100, 64,110]
];
const ot_1525_1 = [
  ['g1', 0,0, 4,30, 8,70, 10,110],
  ['g3', 0,0, 6,40, 12,110],
  ['g2', 0,0, 4,20, 10,60, 14,110],
  ['r2', 0,0, 2,20, 4,30, 6,20, 8,10, 10,-10, 12,-20, 14,10, 16,40, 18,60, 20,70, 22,80, 24,110],
  ['r2', 0,0, 4,20, 8,10, 12,-20, 16,30, 20,50, 24,60, 26,80, 28,110],
  ['r1', 0,0, 4,5, 8,-10, 12,-20, 14,10, 16,40, 18,60, 20,90, 22,110],
  ['r1', 0,0, 2,-10, 4,-30, 6,-40, 8,-50, 10,-45, 12,-35, 14,-20, 16,-10, 18,0, 20,10, 22,30, 24,45, 26,40, 28,60, 30,55, 32,65, 34,110]
];
const ep_1525_1 = [
  ['g1', 0,0, 4,30, 8,110],
  ['g3', 0,0, 6,40, 10,110],
  ['g2', 0,0, 6,20, 12,110],
  ['n3', 0,0, 4,-20, 8,-40, 12,-55, 16,-75, 20,-70, 24,-80, 28,-85, 32,-80, 36,-75, 40,-55, 44,-40, 48,-10, 50,10, 52,0, 56,-10, 60,30, 62,50, 66,80, 68,110],
  ['n2', 0,0, 4,-10, 8,-20, 12,-40, 16,-55, 20,-70, 24,-75, 28,-85, 32,-90, 36,-80, 40,-70, 44,-40, 46,-20, 48,0, 52,30, 56,50, 60,70, 64,100, 66,90, 68,70, 70,110],
  ['n1', 0,0, 2,20, 4,30, 6,10, 8,-10, 12,-30, 16,-50, 20,-60, 24,-65, 28,-60, 30,-40, 34,-20, 38,10, 40,20, 44,30, 48,50, 52,70, 54,80, 56,100, 58,110]
];
const ot_1545_1a = [
  ['g2', 0,0, 4,50, 6,110],
  ['g3', 0,0, 3,40, 5,110],
  ['r2', 0,0, 2,20, 4,25, 6,15, 10,10, 12,-10, 14,5, 16,20, 18,50, 20,80, 22,110],
  ['r2', 0,0, 2,10, 6,30, 10,20, 12,0, 14,-30, 16,20, 18,60, 20,90, 22,110],
  ['r1', 0,0, 2,-10, 4,-20, 6,-40, 8,-50, 10,-60, 12,-30, 14,-15, 16,10, 18,40, 20,80, 22,110]
];
const ep_1545_1a = [
  ['g2', 0,0, 4,60, 6,110],
  ['g3', 0,0, 6,40, 8,110],
  ['p3', 0,0, 4,10, 8,30, 10,35, 12,20, 16,15, 18,70, 20,110],
  ['p2', 0,0, 4,20, 8,40, 10,20, 12,10, 14,15, 16,40, 18,80, 20,110],
  ['p1', 0,0, 2,30, 4,50, 8,55, 10,40, 12,30, 14,25, 16,40, 18,60, 20,90, 22,110]
];
const ot_1557_1 = [
  ['g2', 0,0, 4,60, 6,110],
  ['g3', 0,0, 5,30, 8,110],
  ['r2', 0,0, 2,-10, 4,-5, 6,0, 8,10, 10,40, 12,100, 14,110],
  ['r2', 0,0, 4,-10, 8,-10, 10,5, 12,20, 14,30, 16,40, 18,70, 20,90, 22,110],
  ['r1', 0,0, 2,10, 6,15, 8,5, 10,-20, 12,-30, 14,-10, 16,10, 18,30, 20,60, 22,80, 24,100, 26,110]
];
const ep_1557_1 = [
  ['g2', 0,0, 4,40, 6,110],
  ['g3', 0,0, 6,50, 8,110],
  ['n3', 0,0, 4,-15, 8,-30, 12,-45, 14,-35, 16,-25, 18,-10, 20,10, 22,40, 24,50, 26,60, 30,80, 32,100, 34,110],
  ['n1', 0,0, 2,-10, 4,-20, 6,-60, 8,-65, 10,-60, 14,-60, 18,-55, 20,-55, 22,-20, 24,0, 28,40, 30,60, 32,80, 34,110]
];
const ot_1546_1a = [
  ['g2', 0,0, 4,30, 8,60, 12,110],
  ['g1', 0,0, 6,40, 10,80, 14,110],
  ['g3', 0,0, 4,50, 8,70, 12,110],
  ['r2', 0,0, 2,-20, 4,-10, 6,20, 8,40, 10,-5, 12,-45, 14,-30, 16,-20, 18,-10, 20,0, 22,20, 24,40, 26,60, 28,80, 30,110],
  ['r2', 0,0, 4,10, 8,35, 10,50, 12,20, 14,60, 16,80, 18,100, 20,110],
  ['r1', 0,0, 2,10, 4,-5, 6,20, 8,40, 10,50, 12,60, 14,80, 16,110]
];
const ep_1546_1a = [
  ['g1', 0,0, 4,30, 8,110],
  ['g2', 0,0, 6,20, 10,40, 12,60, 14,110],
  ['g3', 0,0, 8,30, 12,110],
  ['p3', 0,0, 4,10, 8,-20, 12,-30, 16,-40, 20,-50, 22,-65, 26,-70, 30,-60, 34,-50, 38,-40, 40,-20, 44,0, 46,20, 48,40, 50,50, 52,60, 56,85, 60,100, 62,110],
  ['p2', 0,0, 2,-10, 4,-20, 6,-30, 8,-20, 10,-20, 12,-10, 14,-20, 18,0, 20,10, 22,20, 24,50, 26,70, 28,80, 30,100, 34,110, 40,100, 42,110],
  ['p1', 0,0, 2,-15, 4,-10, 6,5, 8,-10, 10,-25, 12,-5, 14,0, 16,-30, 18,-45, 20,-50, 22,-45, 24,-30, 26,-25, 28,-10, 32,20, 36,50, 40,80, 44,110]
];
const ot_1505_2 = [
  ['g2', 0,0, 2,40, 4,110],
  ['g1', 0,0, 4,60, 6,110],
  ['r2', 0,0, 2,-10, 4,-5, 6,10, 8,30, 10,50, 12,70, 14,90, 16,110],
  ['r2', 0,0, 4,30, 6,60, 8,75, 10,90, 12,90, 14,110],
  ['r1', 0,0, 2,20, 4,40, 6,50, 8,60, 10,100, 12,110]
];
const ep_1505_2 = [
  ['g2', 0,0, 4,50, 6,110],
  ['g1', 0,0, 3,60, 5,110],
  ['p3', 0,0, 4,-10, 8,-15, 12,-10, 16,0, 18,0, 20,30, 22,40, 26,60, 28,80, 30,110],
  ['p2', 0,0, 4,-5, 8,-10, 12,-5, 16,-5, 18,-5, 20,20, 22,35, 24,50, 28,80, 30,110],
  ['p4', 0,0, 4,5, 8,10, 10,0, 14,-10, 18,-5, 20,20, 22,60, 24,90, 26,100, 28,110],
  ['p1', 0,0, 4,10, 8,15, 12,0, 16,-5, 20,20, 24,40, 28,60, 30,80, 32,100, 34,110]
];
const ot_1518_3 = [
  ['g2', 0,0, 2,60, 3,110],
  ['r2', 0,0, 2,40, 4,60, 6,50, 8,40, 10,60, 12,110],
  ['r2', 0,0, 2,30, 4,70, 6,110],
  ['r1', 0,0, 1,20, 2,40, 4,60, 6,110]
];
const ep_1518_3 = [
  ['g2', 0,0, 4,60, 6,110],
  ['g1', 0,0, 6,50, 8,110],
  ['p3', 0,0, 2,40, 4,70, 6,60, 8,55, 10,50, 12,60, 14,80, 16,110],
  ['p2', 0,0, 2,0, 4,40, 6,80, 8,60, 10,50, 12,45, 14,50, 16,110]
];

const panelSeries = [
  [ot_1528_1, ep_1528_1], [ot_1537_1, ep_1537_1], [ot_1518_1b, ep_1518_1b], [ot_1518_1c, ep_1518_1c],
  [ot_1522_1, ep_1522_1], [ot_1538_1b, ep_1538_1b], [ot_1514_1, ep_1514_1], [ot_1514_2a, ep_1514_2a],
  [ot_1542_1, ep_1542_1], [ot_1535_1, ep_1535_1], [ot_1520_1, ep_1520_1], [ot_1514_2b, ep_1514_2b],
  [ot_1504_1, ep_1504_1], [ot_1514_5, ep_1514_5], [ot_1523_1, ep_1523_1], [ot_1501_1, ep_1501_1],
  [ot_1512_1b, ep_1512_1b], [ot_1528_2, ep_1528_2], [ot_1524_1, ep_1524_1], [ot_1548_1, ep_1548_1],
  [ot_1546_1b, ep_1546_1b], [ot_1546_2, ep_1546_2], [ot_1543_1, ep_1543_1], [ot_1515_1, ep_1515_1],
  [ot_1512_1a, ep_1512_1a], [ot_1541_1, ep_1541_1], [ot_1525_1, ep_1525_1], [ot_1545_1a, ep_1545_1a],
  [ot_1557_1, ep_1557_1], [ot_1546_1a, ep_1546_1a], [ot_1505_2, ep_1505_2], [ot_1518_3, ep_1518_3]
];

// ---- layout ----
const COL_LEFT = 116, COL_STEP = 154;
const GROUP_TOP = [52, 365, 678, 992];
const EP_OFFSET = 139;
const PW = 116, PH = 112;
const PAD = 4, YW = 112, XH = 30;
const GRID = '#c2c2c2';

Chart.defaults.font.family = 'Lato, "Open Sans", sans-serif';
Chart.defaults.color = '#000';

const wrap = document.getElementById('wrap');

function toPoints(line) {
  const pts = [];
  for (let i = 1; i < line.length; i += 2) pts.push({ x: line[i], y: line[i + 1] });
  return pts;
}

function drawPlot(lines, left, top, showY, showX) {
  const yw = showY ? YW : 0;
  const xh = showX ? XH : 0;
  const canvas = document.createElement('canvas');
  const w = PW + 2 * PAD + yw;
  const h = PH + 2 * PAD + xh;
  canvas.width = w;
  canvas.height = h;
  canvas.style.width = w + 'px';
  canvas.style.height = h + 'px';
  wrap.appendChild(canvas);

  const chart = new Chart(canvas, {
    type: 'line',
    data: {
      datasets: lines.map((ln, i) => ({
        data: toPoints(ln),
        borderColor: palette[ln[0]],
        borderWidth: 3,
        pointRadius: 0,
        tension: 0,
        fill: false,
        order: lines.length - i
      }))
    },
    options: {
      responsive: false,
      maintainAspectRatio: false,
      animation: false,
      events: [],
      layout: { padding: PAD },
      plugins: { legend: { display: false }, tooltip: { enabled: false } },
      scales: {
        x: {
          type: 'linear',
          min: 0,
          max: 84,
          afterBuildTicks: s => { s.ticks = xTicks.map(v => ({ value: v })); },
          ticks: { display: showX, padding: 5, font: { size: 18 }, maxRotation: 0, autoSkip: false },
          grid: { color: GRID, lineWidth: 2, drawTicks: false },
          border: { color: GRID, width: 2 },
          afterFit: s => { s.height = xh; }
        },
        y: {
          min: -100,
          max: 100,
          ticks: {
            display: showY,
            stepSize: 50,
            padding: 14,
            labelOffset: 3,
            font: { size: 19 },
            callback: v => yTickLabels[String(v)] || ''
          },
          grid: { color: GRID, lineWidth: 2, drawTicks: false },
          border: { color: GRID, width: 2 },
          afterFit: s => { s.width = yw; }
        }
      }
    }
  });

  // tick labels can eat into the plot; grow the canvas so the plot keeps its size
  const a = chart.chartArea;
  const nw = Math.round(w + PW - (a.right - a.left));
  const nh = Math.round(h + PH - (a.bottom - a.top));
  if (nw !== w || nh !== h) chart.resize(nw, nh);
  const b = chart.chartArea;
  canvas.style.left = (left - b.left) + 'px';
  canvas.style.top = (top - b.top) + 'px';
}

panelNames.forEach((name, idx) => {
  const g = Math.floor(idx / 8);
  const c = idx % 8;
  const left = COL_LEFT + COL_STEP * c;
  const otTop = GROUP_TOP[g];
  const epTop = GROUP_TOP[g] + EP_OFFSET;

  // title
  const t = document.createElement('div');
  t.className = 'title';
  t.style.left = (left + PW / 2 - 110) + 'px';
  t.style.top = (otTop - 33) + 'px';
  t.style.color = titleColors[nameColors[idx]];
  const span = document.createElement('span');
  span.className = 'name';
  span.textContent = name;
  if (starMarks[idx]) {
    const st = document.createElement('span');
    st.className = 'star';
    st.textContent = starMarks[idx];
    span.appendChild(st);
  }
  t.appendChild(span);
  wrap.appendChild(t);

  drawPlot(panelSeries[idx][0], left, otTop, c === 0, false);
  drawPlot(panelSeries[idx][1], left, epTop, c === 0, c === 0);

  if (c === 0) {
    rowLabels.forEach((lab, r) => {
      const d = document.createElement('div');
      d.className = 'rowlab';
      d.textContent = lab;
      d.style.left = '14px';
      d.style.top = (otTop + (r === 0 ? 53 : 183)) + 'px';
      wrap.appendChild(d);
    });
  }
});
</script>
</body>
</html>
